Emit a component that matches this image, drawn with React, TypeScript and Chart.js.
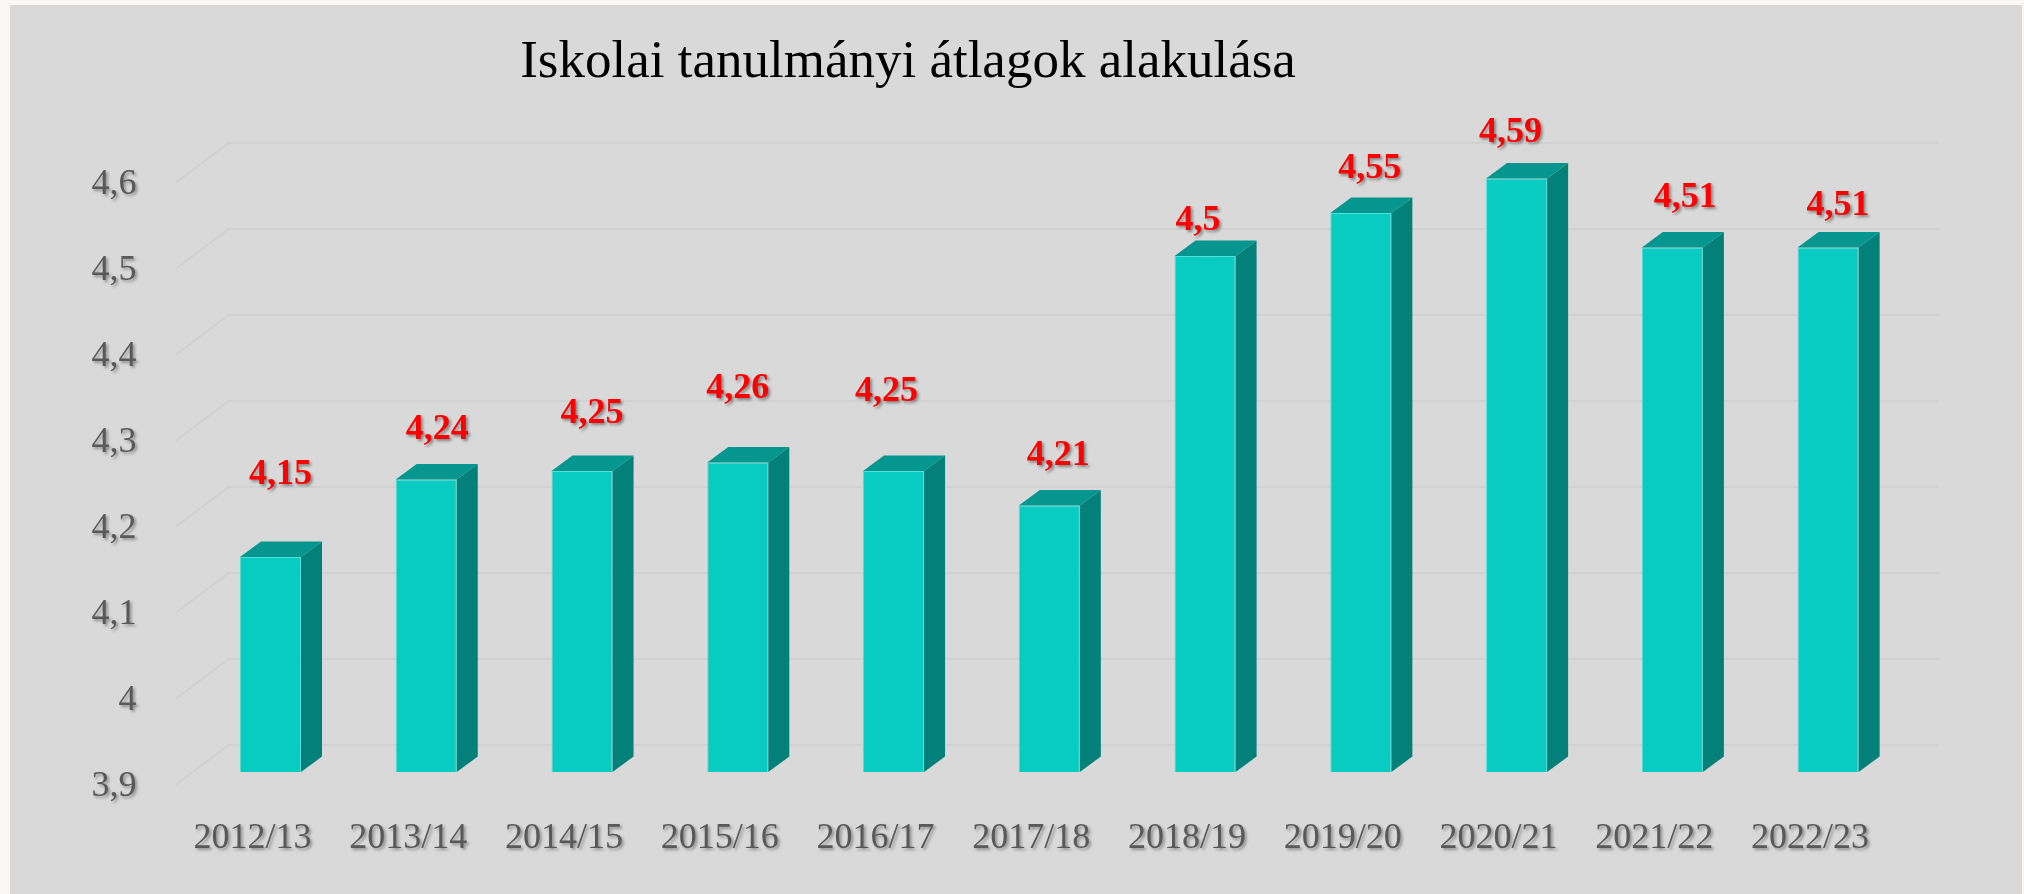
import React, { useEffect, useRef } from 'react';
import { Chart, registerables } from 'chart.js';

Chart.register(...registerables);

// ---- data ----
const chartTitle = 'Iskolai tanulmányi átlagok alakulása';
const categories = ['2012/13', '2013/14', '2014/15', '2015/16', '2016/17', '2017/18', '2018/19', '2019/20', '2020/21', '2021/22', '2022/23'];
const averages = [4.15, 4.24, 4.25, 4.26, 4.25, 4.21, 4.5, 4.55, 4.59, 4.51, 4.51];
const yMin = 3.9;
const yMax = 4.6;
const yStep = 0.1;
// per-label nudges (pixels, relative to the bar top) as placed in the original
const labelShiftX = [10, 11, 10, 0, -7, 9, -7, 9, -6, 13, 10];
const labelShiftY = [-82, -50, -57, -74, -79, -50, -35, -44, -46, -50, -42];

const W = 2024;
const H = 894;
const SERIF = '"Liberation Serif", "Times New Roman", serif';
const FRONT = '#08CBC1';
const TOP = '#05968F';
const SIDE = '#03807A';
const DEPTH_X = 21;
const DEPTH_Y = -15.5;

const fmt = (v: number) => Number(v.toFixed(2)).toString().replace('.', ',');

const backdropPlugin = {
  id: 'backdrop',
  beforeDraw(chart: any) {
    const { ctx, chartArea, scales } = chart;
    ctx.save();
    ctx.fillStyle = '#FAF8F6';
    ctx.fillRect(0, 0, W, H);
    ctx.fillStyle = '#D9D9D9';
    ctx.fillRect(10, 5, 2012, H - 5);
    // back wall grid lines (pseudo 3D)
    const ys = scales.y;
    ctx.strokeStyle = '#D1D1D1';
    ctx.lineWidth = 2;
    const fx = chartArea.left - 17;
    const bx = fx + 53;
    const rx = chartArea.right + 33;
    ys.ticks.forEach((t: any) => {
      const p = ys.getPixelForValue(t.value);
      ctx.beginPath();
      ctx.moveTo(fx, p + 13);
      ctx.lineTo(bx, p - 27);
      ctx.lineTo(rx, p - 27);
      ctx.stroke();
    });
    // title
    ctx.fillStyle = '#000000';
    ctx.font = `53px ${SERIF}`;
    ctx.textAlign = 'center';
    ctx.textBaseline = 'alphabetic';
    ctx.fillText(chartTitle, 908, 77);
    ctx.restore();
    // shadow for axis tick labels drawn next
    ctx.shadowColor = 'rgba(0,0,0,0.35)';
    ctx.shadowOffsetX = 2;
    ctx.shadowOffsetY = 2;
    ctx.shadowBlur = 3;
  },
  beforeDatasetsDraw(chart: any) {
    const { ctx } = chart;
    ctx.shadowColor = 'rgba(0,0,0,0)';
    ctx.shadowOffsetX = 0;
    ctx.shadowOffsetY = 0;
    ctx.shadowBlur = 0;
  },
  afterDatasetsDraw(chart: any) {
    const { ctx, scales } = chart;
    const meta = chart.getDatasetMeta(0);
    const floor = scales.y.getPixelForValue(yMin);
    ctx.save();
    meta.data.forEach((bar: any) => {
      const { x, y, width } = bar.getProps(['x', 'y', 'width'], true);
      const base = floor;
      const L = x - width / 2;
      const R = x + width / 2;
      // side face
      ctx.fillStyle = SIDE;
      ctx.beginPath();
      ctx.moveTo(R, y);
      ctx.lineTo(R + DEPTH_X, y + DEPTH_Y);
      ctx.lineTo(R + DEPTH_X, base + DEPTH_Y);
      ctx.lineTo(R, base);
      ctx.closePath();
      ctx.fill();
      // top face
      ctx.fillStyle = TOP;
      ctx.beginPath();
      ctx.moveTo(L, y);
      ctx.lineTo(L + DEPTH_X, y + DEPTH_Y);
      ctx.lineTo(R + DEPTH_X, y + DEPTH_Y);
      ctx.lineTo(R, y);
      ctx.closePath();
      ctx.fill();
    });
    // value labels
    ctx.font = `bold 36px ${SERIF}`;
    ctx.fillStyle = '#FF0000';
    ctx.textAlign = 'center';
    ctx.textBaseline = 'middle';
    ctx.shadowColor = 'rgba(0,0,0,0.4)';
    ctx.shadowOffsetX = 2;
    ctx.shadowOffsetY = 2;
    ctx.shadowBlur = 3;
    meta.data.forEach((bar: any, i: number) => {
      const { x, y } = bar.getProps(['x', 'y'], true);
      ctx.fillText(fmt(averages[i]), x + labelShiftX[i], y + labelShiftY[i]);
    });
    ctx.restore();
  },
};

export default function App() {
  const ref = useRef<HTMLCanvasElement | null>(null);

  useEffect(() => {
    if (!ref.current) return;
    const chart = new Chart(ref.current, {
      type: 'bar',
      data: {
        labels: categories,
        datasets: [
          {
            data: averages,
            backgroundColor: FRONT,
            borderColor: 'rgba(70,222,214,0.9)',
            borderWidth: 1,
            barPercentage: 0.392,
            categoryPercentage: 1,
          },
        ],
      },
      options: {
        responsive: false,
        animation: false,
        devicePixelRatio: 1,
        layout: { padding: { left: 0, right: W - 1906, top: 170, bottom: 0 } },
        plugins: {
          legend: { display: false },
          title: { display: false },
          tooltip: { enabled: false },
        },
        scales: {
          x: {
            grid: { display: false, drawTicks: false },
            border: { display: false },
            ticks: {
              color: '#595959',
              font: { family: SERIF, size: 36 },
              padding: 45,
              labelOffset: -18,
              maxRotation: 0,
              autoSkip: false,
            },
            afterFit(scale: any) {
              scale.height = H - 772;
            },
          },
          y: {
            min: yMin,
            max: yMax,
            grid: { display: false, drawTicks: false },
            border: { display: false },
            ticks: {
              stepSize: yStep,
              color: '#595959',
              font: { family: SERIF, size: 36 },
              padding: 56,
              labelOffset: 14.5,
              callback: (v: any) => fmt(Number(v)),
            },
            afterFit(scale: any) {
              scale.width = 192.6;
            },
          },
        },
      },
      plugins: [backdropPlugin],
    });
    return () => chart.destroy();
  }, []);

  return (
    <div style={{ position: 'fixed', left: 0, top: 0, width: W, height: H, background: '#FAF8F6' }}>
      <canvas ref={ref} width={W} height={H} style={{ width: W, height: H, display: 'block' }} />
    </div>
  );
}
